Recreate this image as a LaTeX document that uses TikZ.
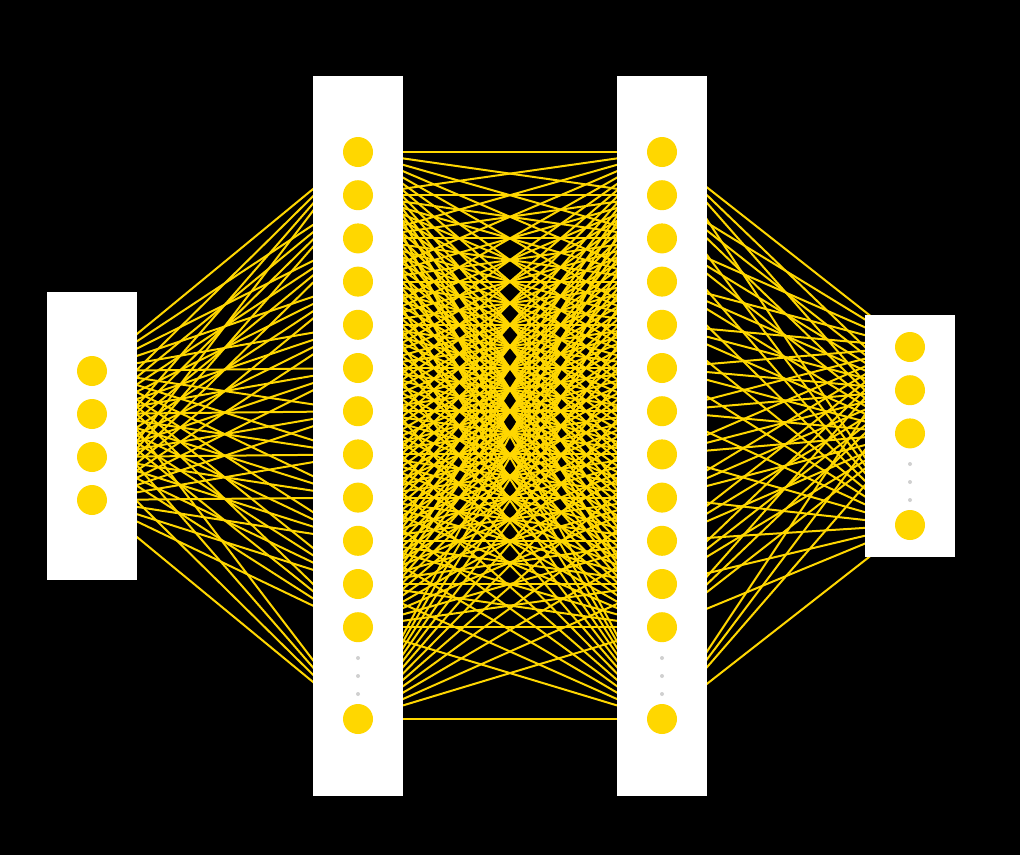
\documentclass[tikz,border=0pt]{standalone}
\usepackage{tikz}
\definecolor{nnGold}{HTML}{FFD700}
\definecolor{nnDot}{HTML}{D0D0D0}

\begin{document}
\begin{tikzpicture}[x=1pt,y=-1pt,
  layerbox/.style={fill=white,draw=none,inner sep=0pt,minimum width=90pt},
  neuron/.style={circle,fill=nnGold,inner sep=0pt,minimum size=30pt},
  gapdot/.style={circle,fill=nnDot,inner sep=0pt,minimum size=4pt},
  link/.style={nnGold,line width=2pt}]
  \fill[black] (0,0) rectangle (1020,855);
  % unit positions
  \foreach \i in {1,...,4}
    \coordinate (a\i) at (92,{371+43*(\i-1)});
  \foreach \i in {1,...,12}{
    \coordinate (b\i) at (358,{152+43.2*(\i-1)});
    \coordinate (c\i) at (662,{152+43.2*(\i-1)});
  }
  \coordinate (b13) at (358,719);
  \coordinate (c13) at (662,719);
  \foreach \i in {1,...,3}
    \coordinate (d\i) at (910,{347+43.2*(\i-1)});
  \coordinate (d4) at (910,525);
  % connections
  \foreach \i in {1,...,4}
    \foreach \j in {1,...,13}
      \draw[link] (a\i) -- (b\j);
  \foreach \i in {1,...,13}
    \foreach \j in {1,...,13}
      \draw[link] (b\i) -- (c\j);
  \foreach \i in {1,...,13}
    \foreach \j in {1,...,4}
      \draw[link] (c\i) -- (d\j);
  % layers
  \node[layerbox,minimum height=288pt] (L1) at (92,436) {};
  \node[layerbox,minimum height=720pt] (L2) at (358,436) {};
  \node[layerbox,minimum height=720pt] (L3) at (662,436) {};
  \node[layerbox,minimum height=242pt] (L4) at (910,436) {};
  % units
  \foreach \i in {1,...,4}{
    \node[neuron] (na\i) at (a\i) {};
    \node[neuron] (nd\i) at (d\i) {};
  }
  \foreach \i in {1,...,13}{
    \node[neuron] (nb\i) at (b\i) {};
    \node[neuron] (nc\i) at (c\i) {};
  }
  \foreach \k/\y in {1/658,2/676,3/694}{
    \node[gapdot] (gb\k) at (358,\y) {};
    \node[gapdot] (gc\k) at (662,\y) {};
  }
  \foreach \k/\y in {1/464,2/482,3/500}
    \node[gapdot] (gd\k) at (910,\y) {};
\end{tikzpicture}
\end{document}
